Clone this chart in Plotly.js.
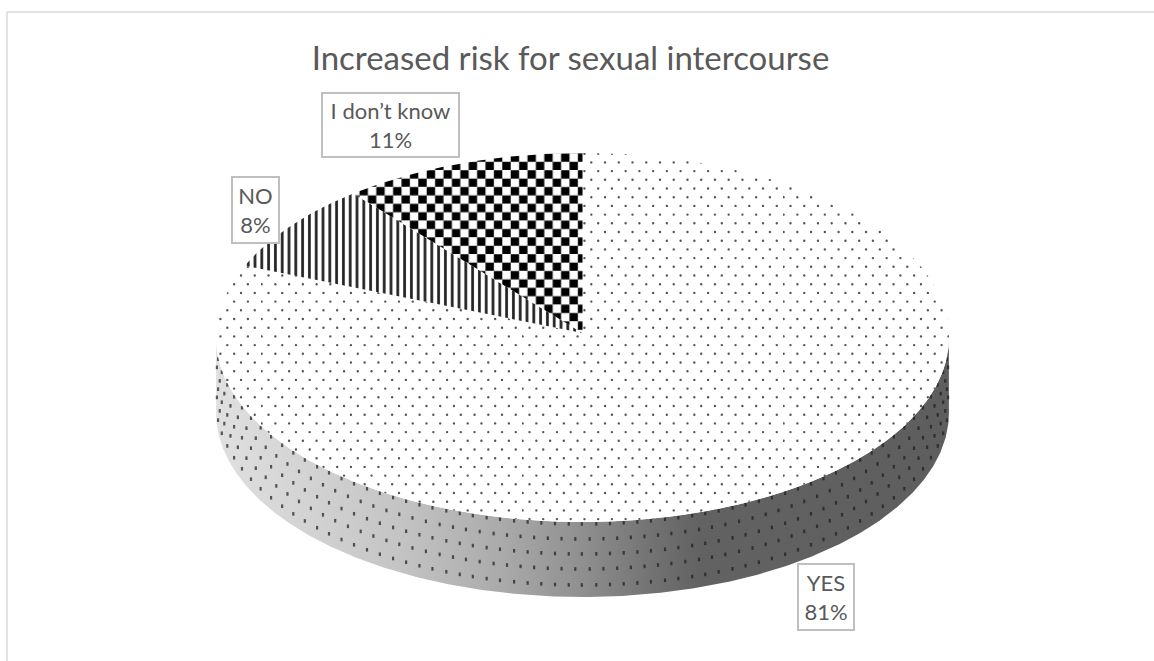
<!DOCTYPE html>
<html>
<head>
<meta charset="utf-8">
<script src="https://cdn.plot.ly/plotly-3.0.1.min.js"></script>
<style>html,body{margin:0;padding:0;background:#fff;}#chart{width:1154px;height:661px;}</style>
</head>
<body>
<div id="chart"></div>
<script>
// Survey answers, in percent, clockwise from twelve o'clock.
const categories = ['YES', 'NO', 'I don\u2019t know'];
const shares = [81, 8, 11];

// Tilted disc geometry, in screen pixels; tilt adds a slight perspective.
const disc = {cx: 582.5, cy: 333, rx: 366.4, ry: 184.4, tilt: 0.0244, depth: 75};

function rimPoint(deg, drop) {
  const a = deg * Math.PI / 180;
  const w = 1 + disc.tilt * Math.cos(a);
  return [disc.cx + disc.rx * Math.sin(a) / w, disc.cy - disc.ry * Math.cos(a) / w + drop];
}

function rim(fromDeg, toDeg, drop) {
  const xs = [], ys = [];
  const n = Math.max(2, Math.round(Math.abs(toDeg - fromDeg) * 2));
  for (let i = 0; i <= n; i++) {
    const p = rimPoint(fromDeg + (toDeg - fromDeg) * i / n, drop);
    xs.push(p[0]);
    ys.push(p[1]);
  }
  return {xs, ys};
}

// Repeating square-tile textures, written as SVG path strings.
function dotTexture(size, cols, rows, ox, oy) {
  const dx = size / cols, dy = size / rows, r = 1.2;
  const dot = (x, y) => 'M' + (x - r).toFixed(2) + ' ' + y.toFixed(2) +
    'a' + r + ' ' + r + ' 0 1 0 ' + 2 * r + ' 0a' + r + ' ' + r + ' 0 1 0 ' + -2 * r + ' 0z';
  let path = '';
  for (let j = 0; j < rows; j++) {
    for (let i = 0; i < cols; i++) {
      path += dot(((ox + i * dx) % size + size) % size, ((oy + j * dy) % size + size) % size);
      path += dot(((ox + (i + 0.5) * dx) % size + size) % size, ((oy + (j + 0.5) * dy) % size + size) % size);
    }
  }
  return path;
}

function checkerTexture(cell, ox, oy) {
  const rect = (x, y) => 'M' + x + ' ' + y + 'h' + cell + 'v' + cell + 'h' + -cell + 'z';
  let path = '';
  for (let j = -1; j <= 1; j++) {
    for (let i = -1; i <= 1; i++) {
      path += rect(ox + i * 2 * cell, oy + j * 2 * cell);
      path += rect(ox + cell + i * 2 * cell, oy + cell + j * 2 * cell);
    }
  }
  return path;
}

const fills = [
  {fillcolor: '#fff', fillpattern: {path: dotTexture(261, 19, 15, 7.5, 14.5), size: 261, fgcolor: '#555', bgcolor: '#fff', solidity: 1}},
  {fillcolor: '#fff', fillpattern: {shape: '|', size: 6.8, solidity: 0.4, fgcolor: '#222', bgcolor: '#fff'}},
  {fillcolor: '#fff', fillpattern: {path: checkerTexture(8.4, 6.7, 2.1), size: 16.8, fgcolor: '#000', bgcolor: '#fff', solidity: 1}}
];

// Wall: front half of the rim, swept down by the disc depth.
const upper = rim(90, 270, 0);
const lower = rim(270, 90, disc.depth);
const wallX = upper.xs.concat(lower.xs, [upper.xs[0]]);
const wallY = upper.ys.concat(lower.ys, [upper.ys[0]]);

// Wall texture: staggered rows of dots spaced evenly along the rim.
const wallRows = [2, 17, 32, 47, 63];
const wallStep = 13.7;
const wallDotX = [], wallDotY = [];
wallRows.forEach((drop, row) => {
  [1, -1].forEach(dir => {
    let walked = row % 2 ? wallStep / 2 : (dir > 0 ? 0 : wallStep);
    let next = walked, len = 0, prev = rimPoint(180, 0);
    for (let d = 0.1; d < 86; d += 0.1) {
      const p = rimPoint(180 + dir * d, 0);
      len += Math.hypot(p[0] - prev[0], p[1] - prev[1]);
      prev = p;
      if (len >= next) {
        const q = rimPoint(180 + dir * d, drop);
        wallDotX.push(q[0]);
        wallDotY.push(q[1]);
        next += wallStep;
      }
    }
  });
});

const traces = [{
  type: 'scatter', mode: 'lines', x: wallX, y: wallY, fill: 'toself', line: {width: 0}, hoverinfo: 'skip',
  fillgradient: {type: 'horizontal', colorscale: [[0, '#e0e0e0'], [0.115, '#d4d4d4'], [0.25, '#c4c4c4'], [0.39, '#aaaaaa'], [0.5, '#8f8f8f'], [0.59, '#747474'], [0.66, '#626262'], [1, '#5e5e5e']]}
}, {
  type: 'scatter', mode: 'markers', x: wallDotX, y: wallDotY, hoverinfo: 'skip',
  marker: {symbol: 'line-ns', size: 2.6, opacity: 0.7, line: {width: 2.2, color: '#1c1c1c'}}
}];

const total = shares.reduce((a, b) => a + b, 0);
let start = 0;
shares.forEach((share, i) => {
  const end = start + share / total * 360;
  const arc = rim(start, end, 0);
  traces.push(Object.assign({
    type: 'scatter', mode: 'lines', name: categories[i],
    x: [disc.cx].concat(arc.xs, [disc.cx]),
    y: [disc.cy].concat(arc.ys, [disc.cy]),
    fill: 'toself', line: {width: 0}, hoverinfo: 'name'
  }, fills[i]));
  start = end;
});

// Label boxes: centre and outer size in pixels.
const labelBoxes = [[826, 597, 58, 68], [255.5, 210, 49, 68], [390.5, 125, 139, 66]];
const annotations = categories.map((c, i) => ({
  xref: 'x', yref: 'y', x: labelBoxes[i][0], y: labelBoxes[i][1], showarrow: false,
  width: labelBoxes[i][2] - 6, height: labelBoxes[i][3] - 6,
  text: c + '<br>' + shares[i] + '%',
  font: {family: 'Lato, sans-serif', size: 22, color: '#595959'},
  bgcolor: '#fff', bordercolor: '#bfbfbf', borderwidth: 2, borderpad: 1
}));

const layout = {
  width: 1154, height: 661, margin: {l: 0, r: 0, t: 0, b: 0},
  paper_bgcolor: '#fff', plot_bgcolor: '#fff', showlegend: false,
  title: {text: 'Increased risk for sexual intercourse', x: 570.5 / 1154, y: 1 - 58 / 661, xanchor: 'center', yanchor: 'middle',
          font: {family: 'Lato, sans-serif', size: 33, color: '#595959'}},
  xaxis: {range: [0, 1154], visible: false, fixedrange: true},
  yaxis: {range: [661, 0], visible: false, fixedrange: true},
  annotations,
  shapes: [
    {type: 'line', xref: 'x', yref: 'y', x0: 7, x1: 7, y0: 12, y1: 661, line: {color: '#d9d9d9', width: 1.5}, layer: 'below'},
    {type: 'line', xref: 'x', yref: 'y', x0: 7, x1: 1154, y0: 12, y1: 12, line: {color: '#d9d9d9', width: 1.5}, layer: 'below'}
  ]
};

Plotly.newPlot('chart', traces, layout, {displayModeBar: false, staticPlot: true});
</script>
</body>
</html>
